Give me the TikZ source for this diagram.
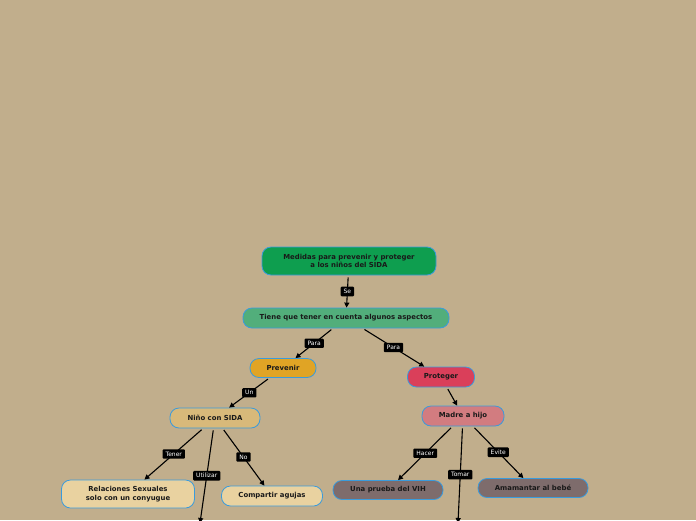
\documentclass[tikz,border=0pt]{standalone}
\usepackage{fontspec}
\setmainfont{DejaVu Sans}
\usetikzlibrary{arrows.meta}

\definecolor{paper}{HTML}{C1AE8C}
\definecolor{edgeblue}{HTML}{3A9BDC}
\definecolor{rootgreen}{HTML}{0E9E4F}
\definecolor{aspgreen}{HTML}{52AE7B}
\definecolor{prevgold}{HTML}{E0A425}
\definecolor{protred}{HTML}{DA3F5A}
\definecolor{ninotan}{HTML}{D8B97A}
\definecolor{madrerose}{HTML}{D27C80}
\definecolor{leafcream}{HTML}{E9D2A0}
\definecolor{leafmauve}{HTML}{7E6C6C}

\begin{document}
\begin{tikzpicture}[x=1pt, y=-1pt,
  topic/.style={draw=edgeblue, line width=0.8pt, rounded corners=9pt, align=center,
                inner sep=0pt, minimum height=20pt, text=black!90,
                font=\fontsize{6.9}{8.4}\selectfont\bfseries},
  arr/.style={-{Triangle[length=5pt, width=5pt]}, line width=1.1pt, black, shorten <=2pt},
  lbl/.style={fill=black, text=white, rounded corners=1pt, inner xsep=3pt, inner ysep=2.5pt,
              font=\fontsize{6}{7}\selectfont},
]
\clip (0,0) rectangle (696,520);
\fill[paper] (0,0) rectangle (696,520);

% main topic
\node[topic, fill=rootgreen, minimum width=174pt, minimum height=28pt] (medidas) at (349,261)
  {Medidas para prevenir y proteger\\a los niños del SIDA};

% aspects
\node[topic, fill=aspgreen, minimum width=206pt] (aspectos) at (346,318)
  {Tiene que tener en cuenta algunos aspectos};

% two branches
\node[topic, fill=prevgold, minimum width=66pt, minimum height=19pt] (prevenir) at (283,368) {Prevenir};
\node[topic, fill=protred, minimum width=67pt] (proteger) at (441,377) {Proteger};

\node[topic, fill=ninotan, minimum width=90pt] (nino) at (215,418) {Niño con SIDA};
\node[topic, fill=madrerose, minimum width=82pt] (madre) at (463,416) {Madre a hijo};

% leaves
\node[topic, fill=leafcream, minimum width=133pt, minimum height=28pt] (relaciones) at (128,494)
  {Relaciones Sexuales\\solo con un conyugue};
\node[topic, fill=leafcream, minimum width=101pt] (agujas) at (272,496) {Compartir agujas};
\node[topic, fill=leafmauve, minimum width=110pt, minimum height=19pt] (prueba) at (388,490) {Una prueba del VIH};
\node[topic, fill=leafmauve, minimum width=110pt, minimum height=19pt] (amamantar) at (533,488) {Amamantar al bebé};

% targets below the visible area
\coordinate (utilizar) at (200,523);
\coordinate (tomar) at (458,523);

% connectors
\draw[arr] (medidas) -- node[lbl] {Se} (aspectos);
\draw[arr] (aspectos) -- node[lbl] {Para} (prevenir);
\draw[arr] (aspectos) -- node[lbl] {Para} (proteger);
\draw[arr] (prevenir) -- node[lbl] {Un} (nino);
\draw[arr] (proteger) -- (madre);
\draw[arr] (nino) -- node[lbl] {Tener} (relaciones);
\draw[arr] (nino) -- node[lbl] {Utilizar} (utilizar);
\draw[arr] (nino) -- node[lbl] {No} (agujas);
\draw[arr] (madre) -- node[lbl] {Hacer} (prueba);
\draw[arr] (madre) -- node[lbl] {Tomar} (tomar);
\draw[arr] (madre) -- node[lbl] {Evite} (amamantar);

\end{tikzpicture}
\end{document}
